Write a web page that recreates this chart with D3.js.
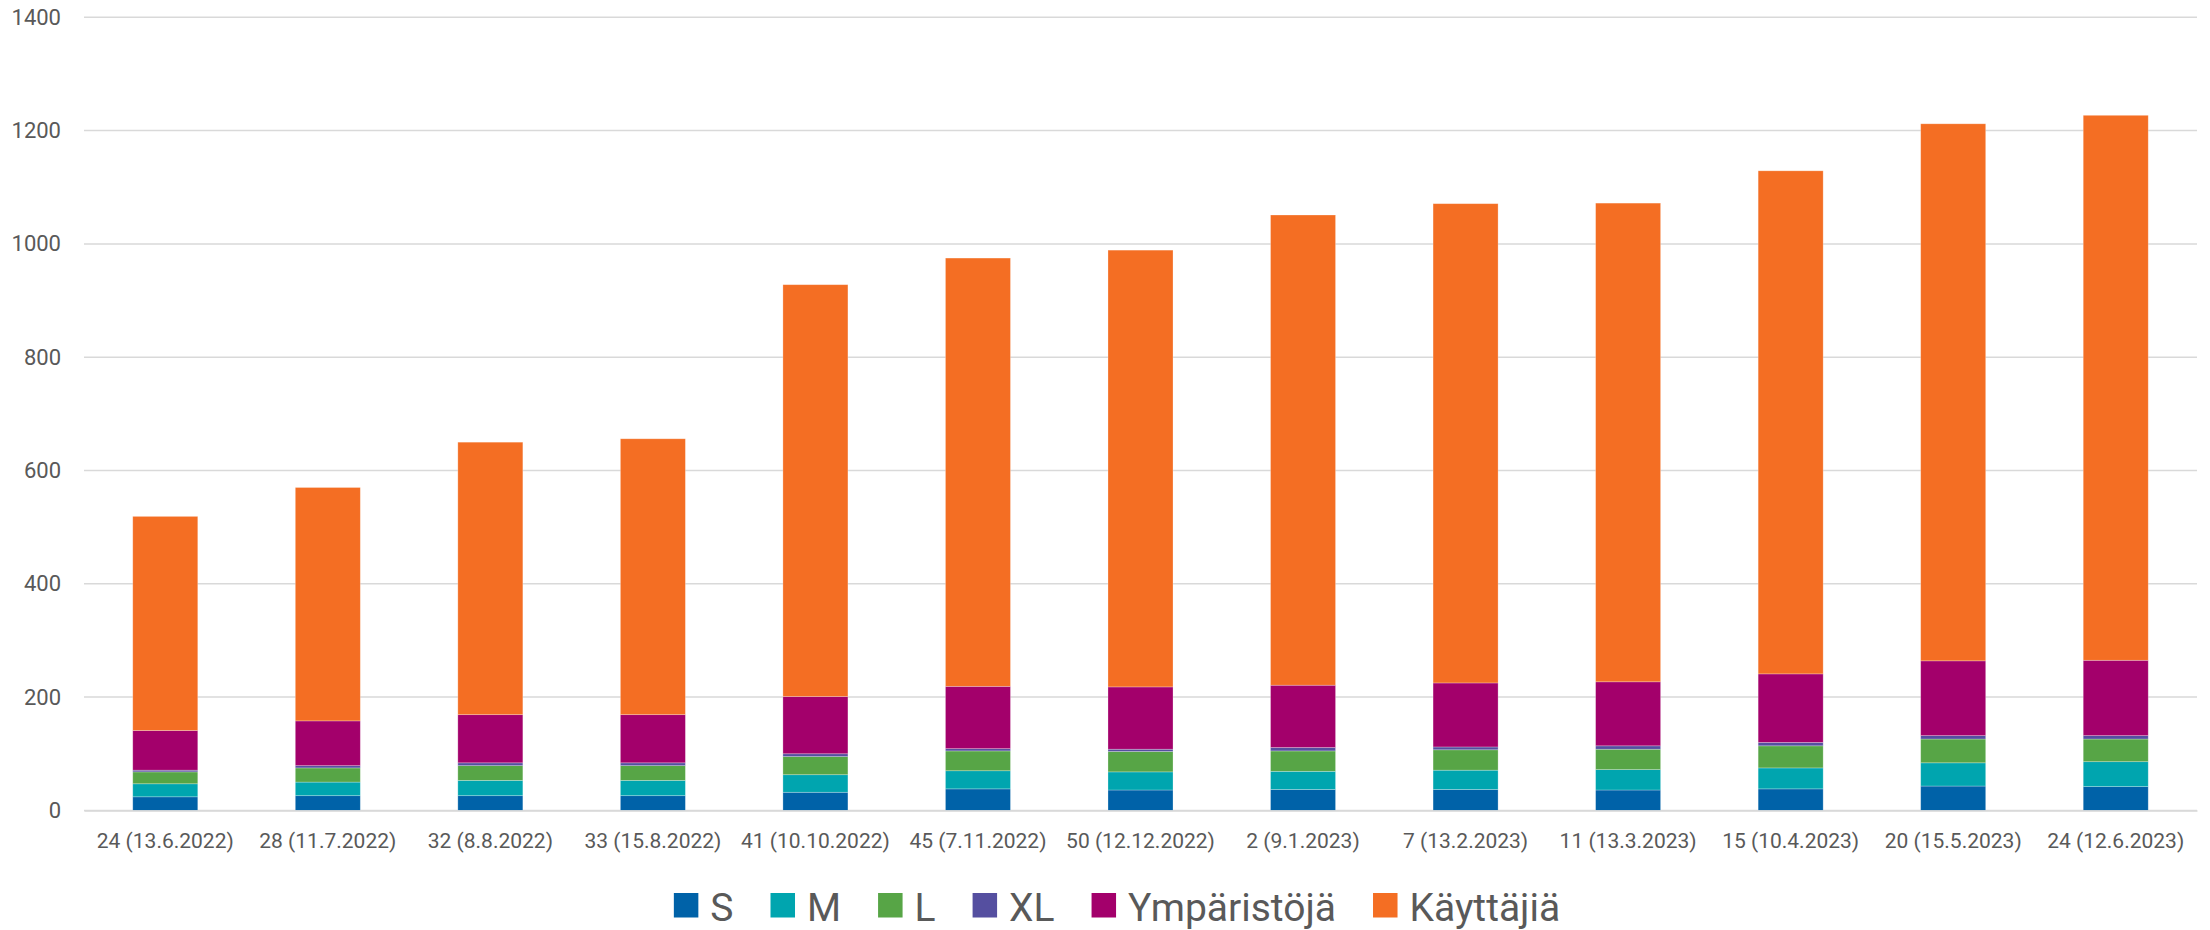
<!DOCTYPE html>
<html>
<head>
<meta charset="utf-8">
<script src="https://cdn.jsdelivr.net/npm/d3@7"></script>
<style>
  body { margin: 0; background: #fff; }
  text { font-family: Roboto, sans-serif; fill: #595959; }
</style>
</head>
<body>
<div id="chart"></div>
<script>
// canvas size
const svgWidth = 2210
const svgHeight = 930
const margin = { top: 17.3, right: 13, bottom: 119.6, left: 84 }
const width = svgWidth - margin.left - margin.right
const height = svgHeight - margin.top - margin.bottom

// data
const weeks = ['24 (13.6.2022)', '28 (11.7.2022)', '32 (8.8.2022)', '33 (15.8.2022)', '41 (10.10.2022)',
  '45 (7.11.2022)', '50 (12.12.2022)', '2 (9.1.2023)', '7 (13.2.2023)', '11 (13.3.2023)',
  '15 (10.4.2023)', '20 (15.5.2023)', '24 (12.6.2023)']
const sizeS = [24, 26, 26, 26, 32, 38, 36, 37, 37, 36, 38, 43, 42]
const sizeM = [23, 24, 27, 27, 31, 32, 32, 32, 34, 36, 37, 41, 44]
const sizeL = [21, 25, 26, 26, 32, 35, 36, 36, 36, 36, 39, 42, 40]
const sizeXL = [3, 4, 5, 5, 5, 4, 4, 6, 5, 6, 6, 6, 6]
const environments = [70, 79, 85, 85, 101, 110, 110, 110, 113, 113, 121, 132, 133]
const users = [378, 412, 481, 487, 727, 756, 771, 830, 846, 845, 888, 948, 962]
const yTicks = [0, 200, 400, 600, 800, 1000, 1200, 1400]

const seriesNames = ['S', 'M', 'L', 'XL', 'Ympäristöjä', 'Käyttäjiä']
const seriesValues = [sizeS, sizeM, sizeL, sizeXL, environments, users]
const colors = ['#0062a8', '#00a5af', '#57a546', '#554fa0', '#a3006b', '#f46e23']

// table for d3.stack
const rows = weeks.map((w, i) => {
  const row = { week: w }
  seriesNames.forEach((s, j) => { row[s] = seriesValues[j][i] })
  return row
})
const stacked = d3.stack().keys(seriesNames)(rows)

const svg = d3.select('#chart').append('svg').attr('width', svgWidth).attr('height', svgHeight)
const chartGroup = svg.append('g').attr('transform', `translate(${margin.left}, ${margin.top})`)

// scales
const x = d3.scaleBand().domain(weeks).range([0, width]).paddingInner(0.6).paddingOuter(0.3)
const y = d3.scaleLinear().domain([0, 1400]).range([height, 0])

// gridlines
chartGroup.append('g').selectAll('line').data(yTicks).enter().append('line')
  .attr('x1', 0).attr('x2', width)
  .attr('y1', d => y(d)).attr('y2', d => y(d))
  .attr('stroke', '#d9d9d9').attr('stroke-width', 1.5)

// y axis
const leftAxis = chartGroup.append('g')
  .call(d3.axisLeft(y).tickValues(yTicks).tickFormat(d3.format('d')).tickSize(0).tickPadding(23))
leftAxis.select('.domain').remove()
leftAxis.selectAll('text').attr('font-size', 22).style('font-family', 'Roboto').attr('fill', '#595959')

// bars
chartGroup.append('g').selectAll('g').data(stacked).enter().append('g')
  .attr('fill', (d, i) => colors[i])
  .selectAll('rect').data(d => d).enter().append('rect')
  .attr('x', d => x(d.data.week))
  .attr('width', x.bandwidth())
  .attr('y', d => y(d[1]))
  .attr('height', d => y(d[0]) - y(d[1]))
  .attr('stroke', '#ffffff').attr('stroke-opacity', 0.35).attr('stroke-width', 0.75)

// x axis
const bottomAxis = chartGroup.append('g').attr('transform', `translate(0, ${height})`)
  .call(d3.axisBottom(x).tickSize(0).tickPadding(23))
bottomAxis.select('.domain').attr('stroke', '#d9d9d9').attr('stroke-width', 1.5)
bottomAxis.selectAll('text').attr('font-size', 21).style('font-family', 'Roboto').attr('fill', '#595959')

// legend
const legend = svg.append('g')
const box = 24.5
const textGap = 12
const itemGap = 37
let cursor = 0
seriesNames.forEach((name, i) => {
  const g = legend.append('g')
  g.append('rect').attr('x', 0).attr('y', 893).attr('width', box).attr('height', box).attr('fill', colors[i])
  const t = g.append('text').attr('x', box + textGap).attr('y', 920.5).attr('font-size', 39).text(name)
  const w = box + textGap + t.node().getComputedTextLength()
  g.attr('transform', `translate(${cursor}, 0)`)
  cursor += w + itemGap
})
const legendWidth = cursor - itemGap
legend.attr('transform', `translate(${1117 - legendWidth / 2}, 0)`)
</script>
</body>
</html>
